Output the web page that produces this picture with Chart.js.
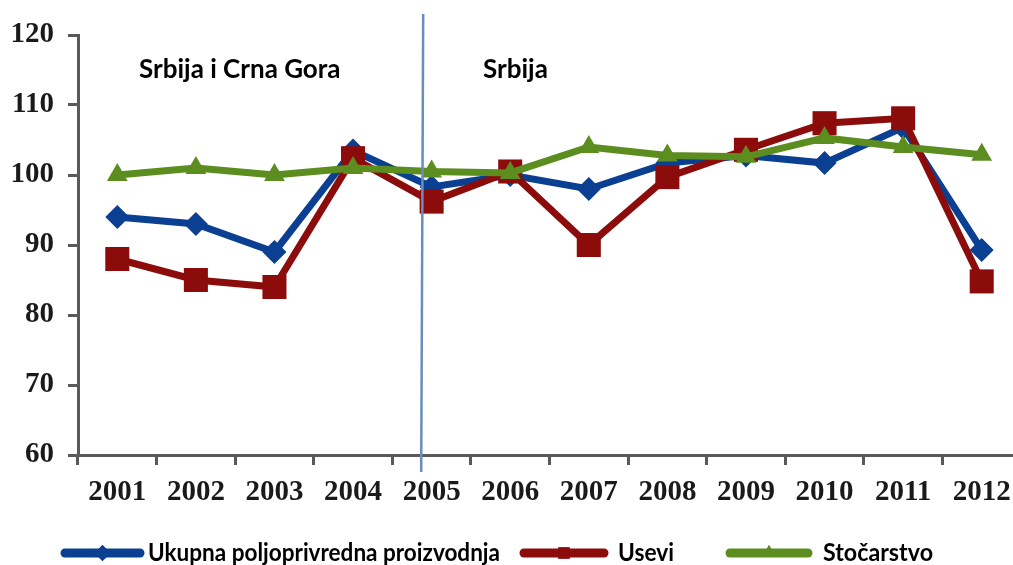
<!DOCTYPE html>
<html>
<head>
<meta charset="utf-8">
<script src="https://cdn.jsdelivr.net/npm/chart.js@4"></script>
<style>
  html, body { margin: 0; padding: 0; background: #fff; overflow: hidden; }
  #wrap { width: 1013px; height: 565px; position: relative; overflow: hidden; }
</style>
</head>
<body>
<div id="wrap"><canvas id="myChart" width="1021" height="565"></canvas></div>
<script>
// podaci
const godine = ["2001", "2002", "2003", "2004", "2005", "2006", "2007", "2008", "2009", "2010", "2011", "2012"];
const ukupna = [94, 93, 89, 103.5, 98.3, 100, 98, 101.7, 102.8, 101.7, 106.8, 89.3];
const usevi = [88, 85, 84, 102.4, 96.2, 100.5, 90, 99.7, 103.6, 107.4, 108.1, 84.8];
const stocarstvo = [100, 101, 100, 101, 100.5, 100.3, 104, 102.8, 102.6, 105.3, 104, 102.9];
const yTicks = [60, 70, 80, 90, 100, 110, 120];

const nazivi = ["Ukupna poljoprivredna proizvodnja", "Usevi", "Stočarstvo"];
const boje = ["#0b3f91", "#8c0b0b", "#5b8d1f"];

// vertikalna linija izmedju 2004 i 2005 + natpisi + legenda
const dodaci = {
    id: "dodaci",
    afterDraw(chart) {
        const ctx = chart.ctx;
        const x = chart.scales.x;
        const lx = x.getPixelForValue(3.88);
        ctx.save();
        ctx.strokeStyle = "#6a8cc0";
        ctx.lineWidth = 2.5;
        ctx.beginPath();
        ctx.moveTo(lx + 1, 14);
        ctx.lineTo(lx - 1, 472);
        ctx.stroke();

        ctx.fillStyle = "#000";
        ctx.font = "bold 26px Lato";
        ctx.textBaseline = "middle";
        ctx.textAlign = "left";
        ctx.fillText("Srbija i Crna Gora", 139, 70, 209);
        ctx.fillText("Srbija", 483, 70, 69);

        // legenda
        const leg = [
            { x0: 65, x1: 140, tx: 148, tw: 352, shape: "rectRot" },
            { x0: 524, x1: 604, tx: 618, tw: 56, shape: "rect" },
            { x0: 730, x1: 808, tx: 823, tw: 110, shape: "triangle" }
        ];
        const ly = 553;
        leg.forEach((l, i) => {
            ctx.strokeStyle = boje[i];
            ctx.fillStyle = boje[i];
            ctx.lineWidth = 9;
            ctx.lineCap = "round";
            ctx.beginPath();
            ctx.moveTo(l.x0, ly);
            ctx.lineTo(l.x1, ly);
            ctx.stroke();
            Chart.helpers.drawPoint(ctx, { pointStyle: l.shape, radius: 8, borderWidth: 0 }, (l.x0 + l.x1) / 2, ly);
            ctx.fill();
            ctx.fillStyle = "#000";
            ctx.font = "bold 25px Lato";
            ctx.fillText(nazivi[i], l.tx, ly, l.tw);
        });
        ctx.restore();
    }
};

const ctx = document.getElementById("myChart").getContext("2d");

new Chart(ctx, {
    type: "line",
    data: {
        labels: godine,
        datasets: [
            {
                label: nazivi[2],
                data: stocarstvo,
                borderColor: boje[2],
                backgroundColor: boje[2],
                pointStyle: "triangle",
                pointRadius: 12,
                order: 0
            },
            {
                label: nazivi[1],
                data: usevi,
                borderColor: boje[1],
                backgroundColor: boje[1],
                pointStyle: "rect",
                pointRadius: 17,
                order: 1
            },
            {
                label: nazivi[0],
                data: ukupna,
                borderColor: boje[0],
                backgroundColor: boje[0],
                pointStyle: "rectRot",
                pointRadius: 12,
                order: 2
            }
        ]
    },
    options: {
        responsive: false,
        animation: false,
        devicePixelRatio: 1,
        layout: { autoPadding: false, padding: { top: 35, right: 0, left: 0, bottom: 0 } },
        elements: {
            line: { borderWidth: 7, tension: 0 },
            point: { borderWidth: 0, hoverRadius: 12 }
        },
        plugins: {
            legend: { display: false },
            tooltip: { enabled: false }
        },
        scales: {
            x: {
                offset: true,
                grid: {
                    offset: true,
                    drawOnChartArea: false,
                    tickLength: 10,
                    tickWidth: 3,
                    tickColor: "#5a5a5a"
                },
                border: { color: "#5a5a5a", width: 3 },
                ticks: {
                    color: "#1a1a1a",
                    font: { family: "'Liberation Serif'", size: 29, weight: "bold" },
                    padding: 10,
                    maxRotation: 0
                },
                afterFit: s => { s.height = 110; s.paddingLeft = 0; s.paddingRight = 0; }
            },
            y: {
                min: 60,
                max: 120,
                afterBuildTicks: s => { s.ticks = yTicks.map(v => ({ value: v })); },
                grid: {
                    drawOnChartArea: false,
                    tickLength: 10,
                    tickWidth: 3,
                    tickColor: "#5a5a5a"
                },
                border: { color: "#5a5a5a", width: 3 },
                ticks: {
                    color: "#1a1a1a",
                    font: { family: "'Liberation Serif'", size: 29, weight: "bold" },
                    padding: 14
                },
                afterFit: s => { s.width = 78; s.paddingTop = 0; s.paddingBottom = 0; }
            }
        }
    },
    plugins: [dodaci]
});
</script>
</body>
</html>
